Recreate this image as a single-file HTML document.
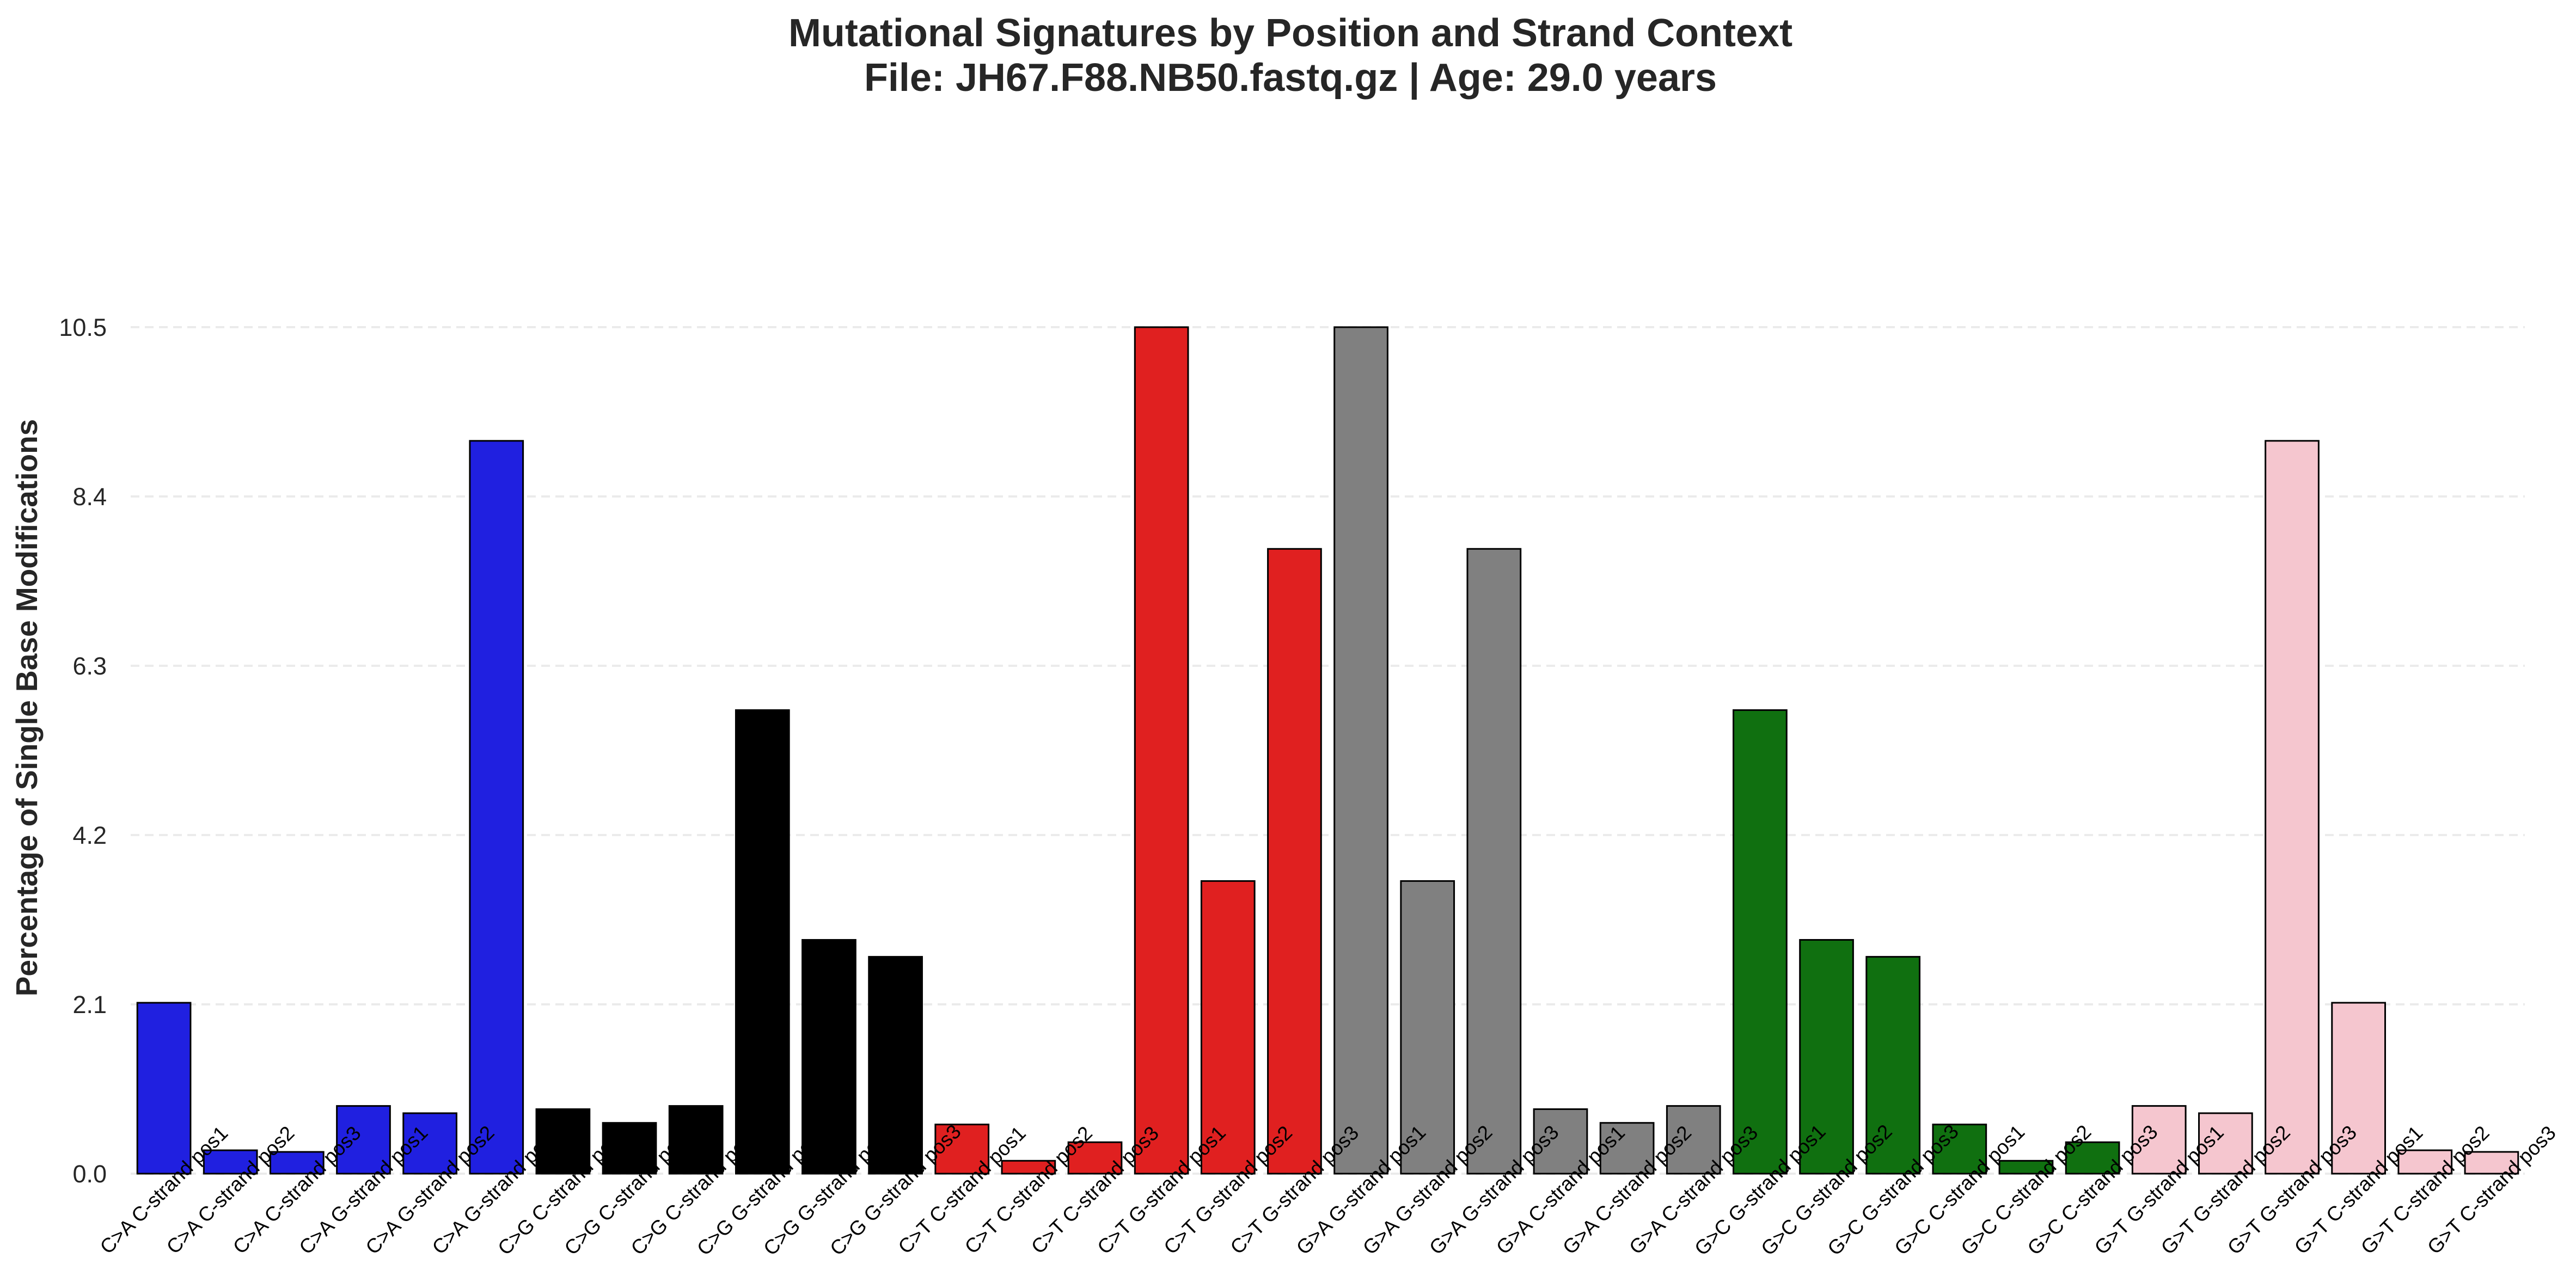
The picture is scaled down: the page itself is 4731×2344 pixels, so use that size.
<!DOCTYPE html>
<html><head><meta charset="utf-8"><style>
html,body{margin:0;padding:0;background:#fff;}
svg{display:block;font-family:"Liberation Sans",Arial,sans-serif;}
</style></head><body>
<svg id="chart" width="4731" height="2344" viewBox="0 0 4731 2344" xmlns="http://www.w3.org/2000/svg">
<rect width="4731" height="2344" fill="#fff"/>
<text x="2370" y="85" text-anchor="middle" font-size="72" font-weight="bold" fill="#262626">Mutational Signatures by Position and Strand Context</text>
<text x="2370" y="167" text-anchor="middle" font-size="72" font-weight="bold" fill="#262626">File: JH67.F88.NB50.fastq.gz | Age: 29.0 years</text>
<text transform="translate(68,1300) rotate(-90)" text-anchor="middle" font-size="55" font-weight="bold" fill="#262626">Percentage of Single Base Modifications</text>
<g id="grid"></g><g id="bars"></g><g id="yticks"></g><g id="xlabels"></g>
</svg>
<script>
const categories = [
"C>A C-strand pos1","C>A C-strand pos2","C>A C-strand pos3","C>A G-strand pos1","C>A G-strand pos2","C>A G-strand pos3",
"C>G C-strand pos1","C>G C-strand pos2","C>G C-strand pos3","C>G G-strand pos1","C>G G-strand pos2","C>G G-strand pos3",
"C>T C-strand pos1","C>T C-strand pos2","C>T C-strand pos3","C>T G-strand pos1","C>T G-strand pos2","C>T G-strand pos3",
"G>A G-strand pos1","G>A G-strand pos2","G>A G-strand pos3","G>A C-strand pos1","G>A C-strand pos2","G>A C-strand pos3",
"G>C G-strand pos1","G>C G-strand pos2","G>C G-strand pos3","G>C C-strand pos1","G>C C-strand pos2","G>C C-strand pos3",
"G>T G-strand pos1","G>T G-strand pos2","G>T G-strand pos3","G>T C-strand pos1","G>T C-strand pos2","G>T C-strand pos3"];
const values = [
2.12,0.29,0.27,0.84,0.75,9.09,
0.80,0.63,0.84,5.75,2.90,2.69,
0.61,0.16,0.39,10.5,3.63,7.75,
10.5,3.63,7.75,0.80,0.63,0.84,
5.75,2.90,2.69,0.61,0.16,0.39,
0.84,0.75,9.09,2.12,0.29,0.27];
const groupColors = ["#2020e0","#000000","#e02020","#808080","#107010","#f5c6cf"];
const yTicks = [0,2.1,4.2,6.3,8.4,10.5];
const yTickLabels = ["0.0","2.1","4.2","6.3","8.4","10.5"];

const NS="http://www.w3.org/2000/svg";
const x0=240, x1=4637, y0=2156, yTop=601, yMax=10.5;
const step=(x1-x0)/categories.length;
const xC=i=>x0+step*(i+0.5);
const yS=v=>y0-(v/yMax)*(y0-yTop);
const mk=(t,a)=>{const e=document.createElementNS(NS,t);for(const k in a)e.setAttribute(k,a[k]);return e;};
const grid=document.getElementById('grid'),bars=document.getElementById('bars'),yt=document.getElementById('yticks'),xl=document.getElementById('xlabels');
yTicks.forEach((t,i)=>{
  const l=mk('line',{x1:x0,x2:x1,y1:yS(t),y2:yS(t),stroke:'#ebebeb','stroke-width':4,'stroke-dasharray':'16,10'});
  
  
  grid.appendChild(l);
  const tx=mk('text',{x:196,y:yS(t)+16,'text-anchor':'end','font-size':45,fill:'#262626'});
  tx.textContent=yTickLabels[i];
  
  
  yt.appendChild(tx);
});
const bw=step*0.8;
values.forEach((v,i)=>{
  const r=mk('rect',{x:xC(i)-bw/2,y:yS(v),width:bw,height:y0-yS(v),fill:groupColors[Math.floor(i/6)],stroke:'#000','stroke-width':3});
  
  
  bars.appendChild(r);
  const t=mk('text',{transform:`translate(${xC(i)},2186) rotate(-45)`,'text-anchor':'middle','dominant-baseline':'central','font-size':37,fill:'#000'});
  t.textContent=categories[i];
  
  
  xl.appendChild(t);
});
</script>
</body></html>
